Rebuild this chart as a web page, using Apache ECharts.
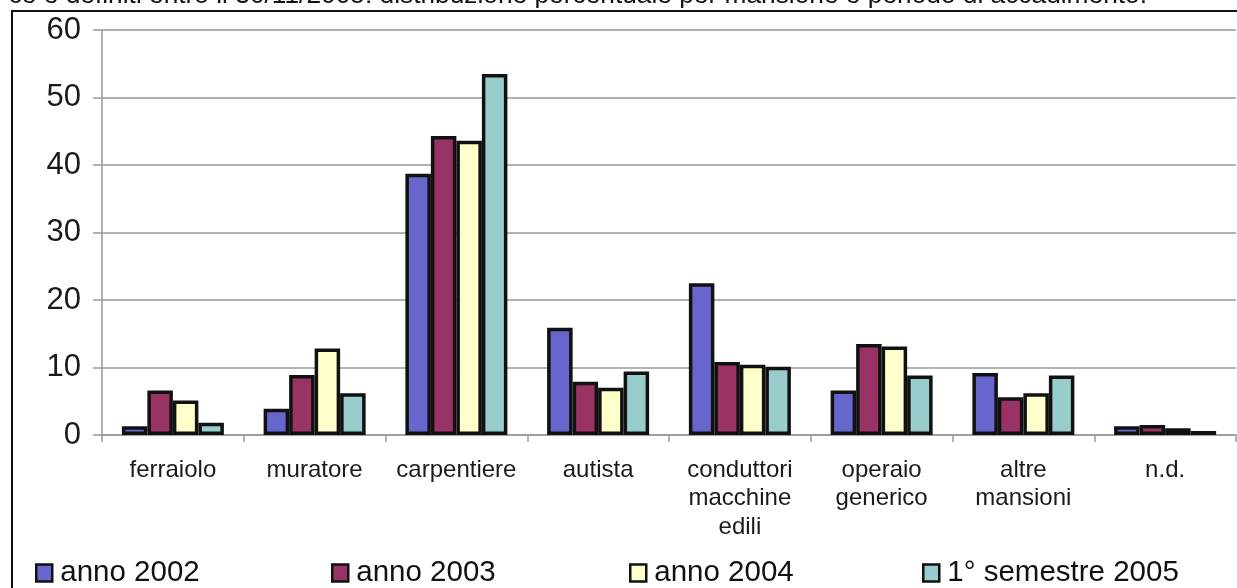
<!DOCTYPE html>
<html>
<head>
<meta charset="utf-8">
<script src="https://cdn.jsdelivr.net/npm/echarts@6/dist/echarts.min.js"></script>
<style>
html,body{margin:0;padding:0;background:#fff;}
#chart{width:1237px;height:588px;}
</style>
</head>
<body>
<div id="chart"></div>
<script>
const categories = ['ferraiolo', 'muratore', 'carpentiere', 'autista', 'conduttori\nmacchine\nedili', 'operaio\ngenerico', 'altre\nmansioni', 'n.d.'];
const seriesNames = ['anno 2002', 'anno 2003', 'anno 2004', '1° semestre 2005'];
const anno2002 = [1.3, 3.9, 38.7, 15.9, 22.5, 6.6, 9.2, 1.3];
const anno2003 = [6.6, 8.9, 44.3, 7.9, 10.8, 13.5, 5.6, 1.5];
const anno2004 = [5.1, 12.8, 43.6, 7.0, 10.4, 13.1, 6.2, 1.0];
const semestre2005 = [1.8, 6.2, 53.5, 9.4, 10.1, 8.8, 8.8, 0.6];
const yTicks = [0, 10, 20, 30, 40, 50, 60];
const titleText = 'ce e definiti entro il 30/11/2005: distribuzione percentuale per mansione e periodo di accadimento.';

const colors = ['#6666CC', '#993366', '#FFFFCC', '#99CCCC'];
const legendLefts = [35, 331, 629, 922];
const values = [anno2002, anno2003, anno2004, semestre2005];

const chart = echarts.init(document.getElementById('chart'), null, {renderer: 'canvas'});
const font = 'Liberation Sans, Arial, sans-serif';

const option = {
  animation: false,
  backgroundColor: '#fff',
  grid: {left: 102, right: 1, top: 30, bottom: 153, containLabel: false},
  xAxis: {
    type: 'category',
    data: categories,
    axisLine: {show: true, lineStyle: {color: '#999', width: 1.5}},
    axisTick: {show: true, length: 7, lineStyle: {color: '#999', width: 1.5}},
    axisLabel: {color: '#1a1a1a', fontFamily: font, fontSize: 24, lineHeight: 28.5, margin: 21, interval: 0}
  },
  yAxis: {
    type: 'value',
    min: yTicks[0],
    max: yTicks[yTicks.length - 1],
    interval: 10,
    axisLine: {show: true, lineStyle: {color: '#999', width: 1.5}},
    axisTick: {show: true, length: 9, lineStyle: {color: '#999', width: 1.5}},
    axisLabel: {color: '#1a1a1a', fontFamily: font, fontSize: 31, margin: 21},
    splitLine: {show: true, lineStyle: {color: '#999', width: 1.5}}
  },
  legend: seriesNames.map((n, i) => ({
    data: [n],
    left: legendLefts[i],
    top: 558,
    padding: 0,
    icon: 'rect',
    itemWidth: 16,
    itemHeight: 17,
    itemGap: 0,
    itemStyle: {borderColor: '#111', borderWidth: 2.5},
    textStyle: {color: '#111', fontFamily: font, fontSize: 29.5, lineHeight: 29, padding: [0, 0, 0, 3]}
  })),
  series: seriesNames.map((n, i) => ({
    name: n,
    type: 'bar',
    data: values[i],
    barWidth: 25.5,
    barGap: '0%',
    itemStyle: {color: colors[i], borderColor: '#111', borderWidth: 3.5}
  })),
  graphic: [
    {
      type: 'rect',
      shape: {x: 12, y: 11, width: 1300, height: 700},
      style: {fill: 'none', stroke: '#111', lineWidth: 2},
      silent: true, z: -1
    },
    {
      type: 'text',
      right: 1237 - 1147,
      top: -17,
      style: {text: titleText, fill: '#111', font: '26.3px ' + font}
    }
  ]
};
chart.setOption(option);
</script>
</body>
</html>
